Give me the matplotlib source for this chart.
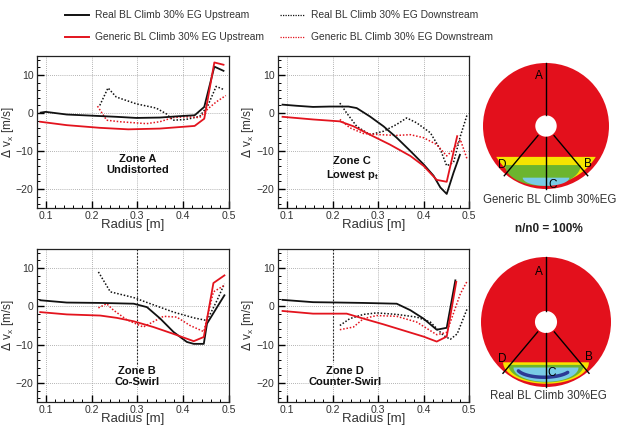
import numpy as np
import matplotlib
matplotlib.use("Agg")
import matplotlib.pyplot as plt
from matplotlib.lines import Line2D
from matplotlib.patches import Circle, Polygon
from matplotlib.ticker import MultipleLocator

plt.rcParams['font.family'] = ['Liberation Sans', 'DejaVu Sans']

RED = '#e3141e'
BLACK = '#111111'

# ---------------- data ----------------
# Zone A (Undistorted)
A_real_up_r = [0.089, 0.100, 0.146, 0.200, 0.254, 0.298, 0.349, 0.396, 0.425, 0.446, 0.468, 0.488]
A_real_up_v = [0.1, 0.3, -0.4, -0.7, -1.0, -1.3, -1.2, -0.8, -0.6, 1.6, 12.2, 11.1]
A_gen_up_r = [0.088, 0.146, 0.218, 0.280, 0.349, 0.425, 0.446, 0.468, 0.488]
A_gen_up_v = [-2.3, -3.2, -3.9, -4.3, -4.1, -3.4, -1.5, 13.3, 12.7]
A_real_dn_r = [0.218, 0.236, 0.254, 0.298, 0.341, 0.363, 0.378, 0.406, 0.436, 0.454, 0.472, 0.488]
A_real_dn_v = [2.0, 6.6, 4.2, 2.4, 1.3, -0.2, -1.9, -1.7, -0.9, 2.0, 7.0, 6.2]
A_gen_dn_r = [0.213, 0.233, 0.262, 0.320, 0.349, 0.378, 0.406, 0.436, 0.454, 0.472, 0.493]
A_gen_dn_v = [1.8, -1.9, -2.3, -2.8, -2.3, -1.2, -1.0, -1.2, 1.1, 2.9, 4.6]

# Zone C (Lowest pt)
C_real_up_r = [0.090, 0.121, 0.157, 0.194, 0.235, 0.253, 0.282, 0.312, 0.341, 0.371, 0.400, 0.422, 0.437, 0.451, 0.466, 0.480]
C_real_up_v = [2.2, 1.9, 1.6, 1.7, 1.7, 1.3, -0.9, -3.5, -6.5, -10.0, -13.5, -16.5, -19.6, -21.3, -15.7, -11.0]
C_gen_up_r = [0.090, 0.157, 0.216, 0.246, 0.282, 0.326, 0.371, 0.400, 0.429, 0.451, 0.474]
C_gen_up_v = [-1.0, -1.7, -2.2, -3.5, -5.7, -8.3, -11.3, -13.9, -17.6, -18.1, -6.1]
C_real_dn_r = [0.216, 0.231, 0.253, 0.282, 0.312, 0.341, 0.363, 0.385, 0.415, 0.437, 0.451, 0.466, 0.481, 0.496]
C_real_dn_v = [2.6, 0.0, -3.5, -5.7, -4.8, -3.0, -1.3, -2.6, -5.2, -9.6, -13.9, -13.0, -6.1, -0.4]
C_gen_dn_r = [0.216, 0.238, 0.268, 0.304, 0.341, 0.371, 0.400, 0.429, 0.451, 0.466, 0.481, 0.496]
C_gen_dn_v = [-1.7, -3.9, -5.4, -5.7, -5.9, -5.7, -6.5, -8.3, -11.3, -9.6, -7.0, -12.2]

# Zone B (Co-Swirl)
B_real_up_r = [0.088, 0.146, 0.219, 0.292, 0.321, 0.350, 0.379, 0.408, 0.423, 0.445, 0.452, 0.474, 0.490]
B_real_up_v = [1.6, 1.0, 0.9, 0.7, -0.2, -3.2, -6.7, -9.3, -9.8, -9.8, -4.5, -0.2, 2.9]
B_gen_up_r = [0.088, 0.146, 0.219, 0.255, 0.292, 0.335, 0.379, 0.423, 0.445, 0.466, 0.490]
B_gen_up_v = [-1.5, -2.1, -2.4, -3.0, -3.9, -5.4, -7.2, -9.1, -8.0, 6.1, 8.1]
B_real_dn_r = [0.215, 0.241, 0.292, 0.335, 0.379, 0.423, 0.452, 0.474, 0.490]
B_real_dn_v = [9.0, 3.8, 2.3, 0.4, -1.5, -3.0, -3.7, 1.6, 5.9]
B_gen_dn_r = [0.215, 0.233, 0.248, 0.277, 0.313, 0.357, 0.386, 0.415, 0.445, 0.466, 0.490]
B_gen_dn_v = [-0.4, 0.7, -1.0, -3.5, -5.4, -2.6, -2.8, -5.0, -6.6, 3.8, 5.5]

# Zone D (Counter-Swirl)
D_real_up_r = [0.090, 0.157, 0.216, 0.268, 0.341, 0.371, 0.400, 0.429, 0.451, 0.470]
D_real_up_v = [1.7, 1.1, 1.0, 0.9, 0.7, -1.0, -3.2, -6.1, -5.6, 6.8]
D_gen_up_r = [0.090, 0.157, 0.231, 0.268, 0.312, 0.356, 0.400, 0.429, 0.451, 0.472]
D_gen_up_v = [-1.2, -1.9, -1.9, -3.2, -4.7, -6.3, -7.9, -9.2, -7.9, 6.4]
D_real_dn_r = [0.216, 0.238, 0.268, 0.297, 0.341, 0.385, 0.415, 0.444, 0.459, 0.474, 0.496]
D_real_dn_v = [-5.0, -3.2, -2.1, -1.7, -2.1, -2.8, -4.1, -7.6, -8.6, -7.2, -0.6]
D_gen_dn_r = [0.216, 0.246, 0.268, 0.297, 0.341, 0.385, 0.429, 0.451, 0.481, 0.496]
D_gen_dn_v = [-6.1, -5.4, -3.2, -2.4, -2.6, -4.1, -7.4, -6.8, 3.3, 6.6]

legend_labels = ["Real BL Climb 30% EG Upstream", "Generic BL Climb 30% EG Upstream",
                 "Real BL Climb 30% EG Downstream", "Generic BL Climb 30% EG Downstream"]
x_ticks = [0.1, 0.2, 0.3, 0.4, 0.5]
y_ticks = [-20, -10, 0, 10]

W, H = 621, 425
fig = plt.figure(figsize=(W / 100, H / 100), dpi=100)


def px_axes(l, t, r, b):
    return fig.add_axes([l / W, 1 - b / H, (r - l) / W, (b - t) / H])


panels = [
    (px_axes(37, 56, 229, 208), 0.081, 'A', "Zone A\nUndistorted", (0.300, -13.6), None, 192),
    (px_axes(278, 56, 469, 208), 0.080, 'C', "Zone C\nLowest p$_\\mathregular{t}$", (0.243, -14.8), None, 191),
    (px_axes(37, 249, 229, 402), 0.081, 'B', "Zone B\nCo-Swirl", (0.300, -18.3), (0.3, -15.5), 192),
    (px_axes(278, 249, 469, 402), 0.080, 'D', "Zone D\nCounter-Swirl", (0.228, -18.3), (0.2, -14.3), 191),
]
series = {
    'A': (A_real_up_r, A_real_up_v, A_gen_up_r, A_gen_up_v, A_real_dn_r, A_real_dn_v, A_gen_dn_r, A_gen_dn_v),
    'B': (B_real_up_r, B_real_up_v, B_gen_up_r, B_gen_up_v, B_real_dn_r, B_real_dn_v, B_gen_dn_r, B_gen_dn_v),
    'C': (C_real_up_r, C_real_up_v, C_gen_up_r, C_gen_up_v, C_real_dn_r, C_real_dn_v, C_gen_dn_r, C_gen_dn_v),
    'D': (D_real_up_r, D_real_up_v, D_gen_up_r, D_gen_up_v, D_real_dn_r, D_real_dn_v, D_gen_dn_r, D_gen_dn_v),
}

for ax, xmin, key, label, lpos, vline, wpx in panels:
    ru, vu, gu, gvu, rd, vd, gd, gvd = series[key]
    ax.plot(rd, vd, color=BLACK, lw=1.1, ls=(0, (1, 1.2)), zorder=3)
    ax.plot(gd, gvd, color=RED, lw=1.1, ls=(0, (1, 1.2)), zorder=3)
    ax.plot(ru, vu, color=BLACK, lw=1.3, zorder=4)
    ax.plot(gu, gvu, color=RED, lw=1.3, zorder=4)
    ax.set_xlim(xmin, 0.5)
    ax.set_ylim(-25, 15)
    ax.set_xticks(x_ticks)
    ax.set_yticks(y_ticks)
    ax.set_xticklabels([f"{t:.1f}" for t in x_ticks])
    ax.xaxis.set_minor_locator(MultipleLocator(0.02))
    ax.yaxis.set_minor_locator(MultipleLocator(2))
    ax.tick_params(which='major', direction='in', length=5, width=1.0, labelsize=7.6,
                   labelcolor='#333333', pad=2)
    ax.tick_params(axis='y', which='major', pad=2.5)
    ax.tick_params(which='minor', direction='in', length=2.5, width=0.7)
    ax.grid(True, which='major', ls=(0, (1, 1.5)), color='#9a9a9a', lw=0.6)
    for s in ax.spines.values():
        s.set_linewidth(0.9)
        s.set_color('#222222')
    ax.set_xlabel("Radius [m]", fontsize=9.5, color='#333333', labelpad=-1)
    ax.set_ylabel("$\\Delta$ v$_\\mathregular{x}$ [m/s]", fontsize=8.5, color='#333333', labelpad=0)
    ax.yaxis.set_label_coords(-21.5 / wpx, 0.5)
    ax.text(lpos[0], lpos[1], label, ha='center', va='center', fontsize=8, fontweight='bold',
            color='#111111', zorder=6, linespacing=1.15)
    if vline is not None:
        ax.plot([vline[0], vline[0]], [15, vline[1]], color='#222222', lw=0.8,
                ls=(0, (1.5, 1.5)), zorder=2)

# ---------------- legend ----------------
leg_styles = [('-', BLACK), ('-', RED), ((0, (1, 1)), BLACK), ((0, (1, 1)), RED)]
leg_pos = [(65, 89, 15), (65, 89, 37), (280, 305, 15), (280, 305, 37)]
for (ls, c), (x0, x1, y), lab in zip(leg_styles, leg_pos, legend_labels):
    fig.add_artist(Line2D([x0 / W, x1 / W], [1 - y / H, 1 - y / H], color=c, lw=1.4 if ls == '-' else 0.9, ls=ls))
    fig.text((x1 + 6) / W, 1 - y / H, lab, fontsize=7.4, color='#333333', va='center', ha='left')

# ---------------- disks ----------------
disk_labels = ["Generic BL Climb 30%EG", "Real BL Climb 30%EG"]
disk_centers = [(546, 126, 63), (546, 322, 65)]
letter_pos = {
    0: [('A', -0.11, 0.80), ('B', 0.67, -0.60), ('C', 0.10, -0.93), ('D', -0.70, -0.62)],
    1: [('A', -0.11, 0.77), ('B', 0.66, -0.54), ('C', 0.09, -0.78), ('D', -0.68, -0.57)],
}
YEL, GRN, LBL, DBL = '#f6e400', '#6cb52e', '#79cbe6', '#2c3a94'


def cap_circle(ytop, R):
    t = np.linspace(np.pi + np.arcsin(-ytop / R), 2 * np.pi - np.arcsin(-ytop / R), 80)
    return np.column_stack([R * np.cos(t), R * np.sin(t)])


def half_ellipse(cx, ytop, a, b):
    t = np.linspace(np.pi, 2 * np.pi, 80)
    return np.column_stack([cx + a * np.cos(t), ytop + b * np.sin(t)])


for i, (cx, cy, R) in enumerate(disk_centers):
    half = 72
    ax = fig.add_axes([(cx - half) / W, 1 - (cy + half) / H, 2 * half / W, 2 * half / H])
    lim = half / R
    ax.set_xlim(-lim, lim)
    ax.set_ylim(-lim, lim)
    ax.set_aspect('equal')
    ax.axis('off')
    ax.add_patch(Circle((0, 0), 1.0, color='#e3101c', zorder=1, lw=0))
    if i == 0:
        ax.add_patch(Polygon(cap_circle(-0.49, 0.93), color=YEL, zorder=2, lw=0))
        ax.add_patch(Polygon(half_ellipse(-0.05, -0.62, 0.60, 0.33), color=GRN, zorder=3, lw=0))
        ax.add_patch(Polygon(half_ellipse(0.0, -0.82, 0.37, 0.13), color=LBL, zorder=4, lw=0))
    else:
        ax.add_patch(Polygon(half_ellipse(0.0, -0.62, 0.66, 0.33), color=YEL, zorder=2, lw=0))
        ax.add_patch(Polygon(half_ellipse(0.0, -0.66, 0.58, 0.27), color=GRN, zorder=3, lw=0))
        ax.add_patch(Polygon(half_ellipse(0.0, -0.70, 0.50, 0.22), color=LBL, zorder=4, lw=0))
        t = np.linspace(np.radians(200), np.radians(330), 60)
        ax.plot(-0.03 + 0.42 * np.cos(t), -0.70 + 0.15 * np.sin(t), color=DBL, lw=2.5,
                solid_capstyle='round', zorder=5)
    ax.add_patch(Circle((0, 0), 0.17, color='white', zorder=6, lw=0))
    ax.plot([0, 0], [0.17, 1.0], color='black', lw=1.0, zorder=7)
    ax.plot([0, 0], [-0.17, -1.0], color='black', lw=1.0, zorder=7)
    for ang in (-130, -50):
        a = np.radians(ang)
        ax.plot([0.2 * np.cos(a), 1.03 * np.cos(a)], [0.2 * np.sin(a), 1.03 * np.sin(a)],
                color='black', lw=1.0, zorder=7)
    for s, x, y in letter_pos[i]:
        ax.text(x, y, s, fontsize=8.5, ha='center', va='center', color='black', zorder=8)

fig.text(550 / W, 1 - 200 / H, disk_labels[0], fontsize=8.3, color='#333333', ha='center', va='center')
fig.text(548 / W, 1 - 396 / H, disk_labels[1], fontsize=8.3, color='#333333', ha='center', va='center')
fig.text(549 / W, 1 - 229 / H, "n/n0 = 100%", fontsize=8.5, fontweight='bold', color='#222222',
         ha='center', va='center')

fig.savefig("out.png", dpi=100)
